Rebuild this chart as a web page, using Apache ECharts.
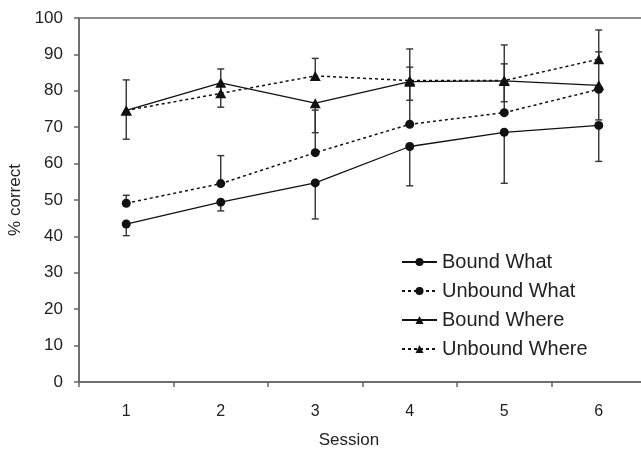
<!DOCTYPE html>
<html>
<head>
<meta charset="utf-8">
<script src="https://cdn.jsdelivr.net/npm/echarts@6/dist/echarts.min.js"></script>
<style>html,body{margin:0;padding:0;background:#fff}#c{width:641px;height:449px}</style>
</head>
<body>
<div id="c"></div>
<script>
var sessions = ['1', '2', '3', '4', '5', '6'];
var boundWhat = [43.4, 49.4, 54.7, 64.7, 68.6, 70.5];
var unboundWhat = [49.1, 54.5, 63.0, 70.8, 74.0, 80.4];
var boundWhere = [74.6, 82.2, 76.6, 82.5, 82.7, 81.5];
var unboundWhere = [74.6, 79.3, 84.1, 82.8, 82.8, 88.7];
// error bar end points (Bound: lower end, Unbound: upper end)
var boundWhatErr = [40.2, 47.0, 44.8, 53.9, 54.6, 60.6];
var unboundWhatErr = [51.3, 62.2, 74.7, 86.5, 87.4, 90.7];
var boundWhereErr = [66.7, 75.5, 68.5, 77.4, 77.0, 72.0];
var unboundWhereErr = [83.0, 86.0, 88.9, 91.5, 92.6, 96.7];
var yTicks = [0, 10, 20, 30, 40, 50, 60, 70, 80, 90, 100];

var ink = '#111';
var fontFam = '"Liberation Sans", Arial, sans-serif';

function errSeries(vals, errs) {
  return {
    type: 'custom',
    silent: true,
    z: 1,
    renderItem: function (params, api) {
      var x = api.value(0), y = api.value(1), e = api.value(2);
      var p1 = api.coord([x, y]);
      var p2 = api.coord([x, e]);
      var st = { stroke: '#333', lineWidth: 1.4 };
      return {
        type: 'group',
        children: [
          { type: 'line', shape: { x1: p1[0], y1: p1[1], x2: p2[0], y2: p2[1] }, style: st },
          { type: 'line', shape: { x1: p2[0] - 3.5, y1: p2[1], x2: p2[0] + 3.5, y2: p2[1] }, style: st }
        ]
      };
    },
    data: vals.map(function (v, i) { return [i, v, errs[i]]; })
  };
}

function lineSeries(name, vals, symbol, dashed) {
  return {
    name: name,
    type: 'line',
    z: 3,
    data: vals,
    symbol: symbol,
    symbolSize: symbol === 'triangle' ? [11, 10] : 9,
    showAllSymbol: true,
    itemStyle: { color: ink, borderWidth: 0 },
    lineStyle: { color: ink, width: dashed ? 1.5 : 1.3, type: dashed ? [3, 3] : 'solid' },
    emphasis: { disabled: true },
    animation: false
  };
}

var chart = echarts.init(document.getElementById('c'), null, { renderer: 'canvas' });
chart.setOption({
  animation: false,
  backgroundColor: '#fff',
  textStyle: { fontFamily: fontFam },
  grid: {
    left: 79, top: 18, width: 567, height: 364,
    outerBoundsMode: 'none', containLabel: false,
    show: true, borderColor: '#666', borderWidth: 1.5, backgroundColor: 'transparent'
  },
  legend: {
    orient: 'vertical',
    left: 401,
    top: 252,
    padding: 0,
    itemWidth: 35,
    itemHeight: 10,
    itemGap: 9,
    data: ['Bound What', 'Unbound What', 'Bound Where', 'Unbound Where'],
    textStyle: { fontSize: 20, color: '#222', lineHeight: 20, fontFamily: fontFam }
  },
  xAxis: {
    type: 'category',
    data: sessions,
    boundaryGap: true,
    axisLine: { lineStyle: { color: '#666', width: 1.5 } },
    axisTick: { show: true, length: 5, lineStyle: { color: '#666', width: 1.5 } },
    axisLabel: { color: '#222', fontSize: 16, margin: 22, fontFamily: fontFam },
    splitLine: { show: false }
  },
  yAxis: {
    type: 'value',
    min: 0,
    max: 100,
    interval: 10,
    name: '% correct',
    nameLocation: 'middle',
    nameGap: 55,
    nameTextStyle: { color: '#222', fontSize: 17, fontFamily: fontFam },
    axisLine: { show: true, lineStyle: { color: '#666', width: 1.5 } },
    axisTick: { show: true, length: 5, lineStyle: { color: '#666', width: 1.5 } },
    axisLabel: {
      color: '#222', fontSize: 17, margin: 16, fontFamily: fontFam,
      formatter: function (v) { return yTicks.indexOf(v) >= 0 ? String(v) : ''; }
    },
    splitLine: { show: false }
  },
  graphic: [{
    type: 'text',
    x: 349, y: 440,
    style: { text: 'Session', fontSize: 17, fill: '#222', fontFamily: fontFam, textAlign: 'center', textVerticalAlign: 'middle' }
  }],
  series: [
    errSeries(boundWhat, boundWhatErr),
    errSeries(unboundWhat, unboundWhatErr),
    errSeries(boundWhere, boundWhereErr),
    errSeries(unboundWhere, unboundWhereErr),
    lineSeries('Bound What', boundWhat, 'circle', false),
    lineSeries('Unbound What', unboundWhat, 'circle', true),
    lineSeries('Bound Where', boundWhere, 'triangle', false),
    lineSeries('Unbound Where', unboundWhere, 'triangle', true)
  ]
});
</script>
</body>
</html>
